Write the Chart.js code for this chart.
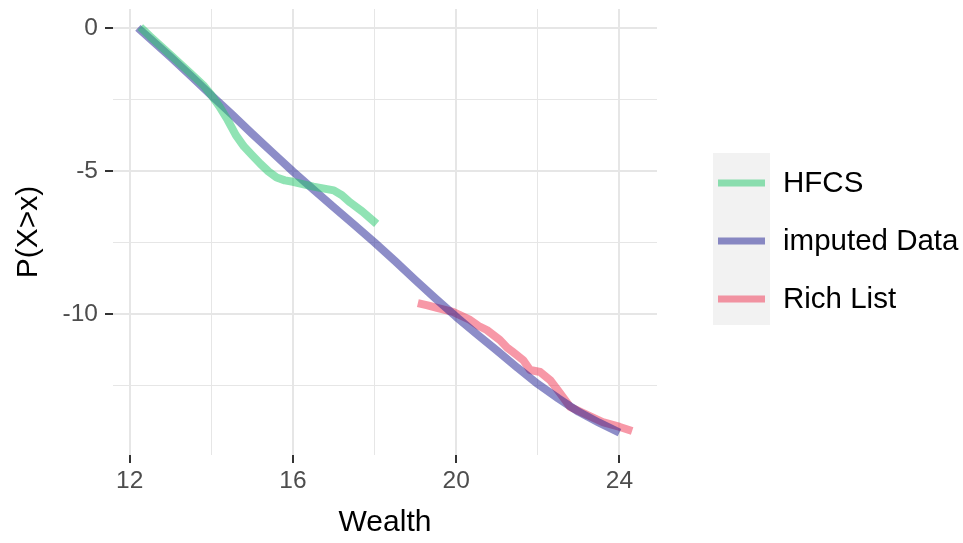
<!DOCTYPE html>
<html>
<head>
<meta charset="utf-8">
<script src="https://cdn.jsdelivr.net/npm/chart.js@4.4.0/dist/chart.umd.min.js"></script>
<style>
  html, body { margin: 0; padding: 0; background: #fff; }
  #wrap { width: 963px; height: 543px; position: relative; }
</style>
</head>
<body>
<div id="wrap"><canvas id="chart"></canvas></div>
<script>
// tail curves, log scale values
var hfcsX = [12.26, 12.5, 13.0, 13.5, 13.8, 14.0, 14.2, 14.4, 14.6, 14.8, 15.0, 15.2, 15.4, 15.6, 15.8, 16.0, 16.5, 17.0, 17.2, 17.4, 17.7, 18.05];
var hfcsY = [0.03, -0.30, -0.95, -1.60, -2.00, -2.35, -2.75, -3.22, -3.75, -4.15, -4.45, -4.75, -5.02, -5.23, -5.33, -5.38, -5.55, -5.68, -5.85, -6.10, -6.42, -6.85];

var imputedX = [12.2, 12.5, 13.0, 13.5, 14.0, 14.5, 15.0, 15.5, 16.0, 16.5, 17.0, 17.5, 18.0, 18.5, 19.0, 19.5, 20.0, 20.5, 21.0, 21.5, 22.0, 22.5, 23.0, 23.5, 24.0];
var imputedY = [0, -0.38, -1.02, -1.68, -2.36, -3.02, -3.70, -4.36, -5.02, -5.65, -6.27, -6.88, -7.50, -8.15, -8.82, -9.47, -10.10, -10.70, -11.28, -11.88, -12.45, -12.95, -13.42, -13.80, -14.15];

var richX = [19.06, 19.3, 19.53, 19.92, 20.34, 20.55, 20.75, 21.07, 21.25, 21.39, 21.64, 21.81, 22.06, 22.30, 22.54, 22.79, 23.10, 23.59, 24.01, 24.31];
var richY = [-9.62, -9.70, -9.79, -9.93, -10.21, -10.42, -10.56, -10.91, -11.18, -11.33, -11.61, -11.96, -12.03, -12.31, -12.76, -13.25, -13.46, -13.78, -13.95, -14.09];

var xTicks = [12, 14, 16, 18, 20, 22, 24];
var xLabels = [12, 16, 20, 24];
var yTicks = [-12.5, -10, -7.5, -5, -2.5, 0];
var yLabels = [-10, -5, 0];

var seriesNames = ['HFCS', 'imputed Data', 'Rich List'];
var seriesColors = ['rgba(33,199,105,0.5)', 'rgba(28,28,145,0.5)', 'rgba(240,50,80,0.5)'];

function pts(xs, ys) {
    return xs.map(function (x, i) { return {x: x, y: ys[i]}; });
}

var fontName = '"Liberation Sans", Arial, sans-serif';

var datasets = [pts(hfcsX, hfcsY), pts(imputedX, imputedY), pts(richX, richY)].map(function (d, i) {
    return {
        label: seriesNames[i],
        data: d,
        borderColor: seriesColors[i],
        backgroundColor: seriesColors[i],
        borderWidth: 8,
        pointRadius: 0,
        tension: 0,
        fill: false,
        borderCapStyle: 'butt',
        borderJoinStyle: 'round'
    };
});

var legendBox = {
    id: 'legendBox',
    afterDraw: function (chart) {
        var ctx = chart.ctx;
        var a = chart.chartArea;
        var left = a.right + 56;
        var top = 153;
        var step = 58;
        ctx.save();
        ctx.fillStyle = '#f2f2f2';
        ctx.fillRect(left, top, 57, step * 3 - 2);
        ctx.font = '29.5px ' + fontName;
        ctx.textBaseline = 'middle';
        seriesNames.forEach(function (name, i) {
            var cy = top + 30 + i * step;
            ctx.strokeStyle = seriesColors[i];
            ctx.lineWidth = 7;
            ctx.beginPath();
            ctx.moveTo(left + 5, cy);
            ctx.lineTo(left + 52, cy);
            ctx.stroke();
            ctx.fillStyle = '#000';
            ctx.fillText(name, left + 70, cy + 1);
        });
        ctx.restore();
    }
};

function isMajor(list, v) {
    return list.indexOf(v) >= 0;
}

new Chart(document.getElementById('chart'), {
    type: 'line',
    data: {datasets: datasets},
    plugins: [legendBox],
    options: {
        responsive: true,
        maintainAspectRatio: false,
        animation: false,
        layout: {padding: {top: 9, right: 306, left: 0, bottom: 0}},
        plugins: {legend: {display: false}, tooltip: {enabled: false}},
        scales: {
            x: {
                type: 'linear',
                min: 11.59,
                max: 24.92,
                afterBuildTicks: function (s) {
                    s.ticks = xTicks.map(function (v) { return {value: v}; });
                },
                afterFit: function (s) {
                    s.height = 88;
                    s.paddingLeft = 0;
                    s.paddingRight = 0;
                },
                border: {display: false},
                grid: {
                    color: '#e6e6e6',
                    lineWidth: function (c) { return isMajor(xLabels, c.tick.value) ? 2 : 1; },
                    tickColor: function (c) { return isMajor(xLabels, c.tick.value) ? '#333' : 'rgba(0,0,0,0)'; },
                    tickWidth: 2,
                    tickLength: 8
                },
                ticks: {
                    autoSkip: false,
                    maxRotation: 0,
                    padding: 4,
                    color: '#4d4d4d',
                    font: {family: fontName, size: 24.5},
                    callback: function (v) { return isMajor(xLabels, v) ? String(v) : ''; }
                },
                title: {
                    display: true,
                    text: 'Wealth',
                    color: '#000',
                    font: {family: fontName, size: 30},
                    padding: {top: 0, bottom: 2}
                }
            },
            y: {
                type: 'linear',
                min: -14.93,
                max: 0.66,
                afterBuildTicks: function (s) {
                    s.ticks = yTicks.map(function (v) { return {value: v}; });
                },
                afterFit: function (s) {
                    s.width = 113;
                    s.paddingTop = 0;
                    s.paddingBottom = 0;
                },
                border: {display: false},
                grid: {
                    color: '#e6e6e6',
                    lineWidth: function (c) { return isMajor(yLabels, c.tick.value) ? 2 : 1; },
                    tickColor: function (c) { return isMajor(yLabels, c.tick.value) ? '#333' : 'rgba(0,0,0,0)'; },
                    tickWidth: 2,
                    tickLength: 8
                },
                ticks: {
                    autoSkip: false,
                    padding: 7,
                    color: '#4d4d4d',
                    font: {family: fontName, size: 24.5},
                    callback: function (v) { return isMajor(yLabels, v) ? String(v) : ''; }
                },
                title: {
                    display: true,
                    text: 'P(X>x)',
                    color: '#000',
                    font: {family: fontName, size: 30},
                    padding: {top: 11, bottom: 0}
                }
            }
        }
    }
});
</script>
</body>
</html>
